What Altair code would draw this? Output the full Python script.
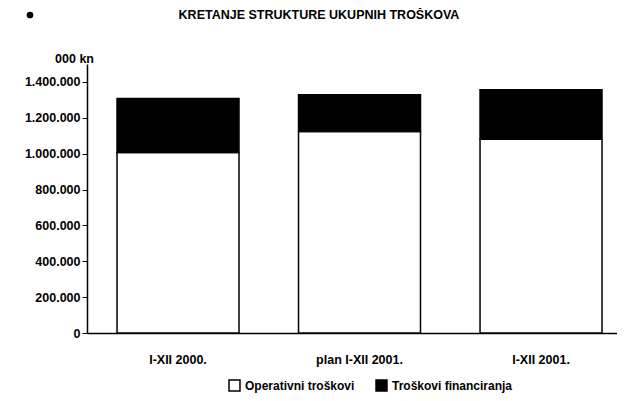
import altair as alt
import pandas as pd

categories = ["I-XII 2000.", "plan I-XII 2001.", "I-XII 2001."]
series = ["Operativni troškovi", "Troškovi financiranja"]
operativni = [1006000, 1123000, 1080000]
financiranja = [301000, 205000, 277000]
y_ticks = [0, 200000, 400000, 600000, 800000, 1000000, 1200000, 1400000]
title_text = ["KRETANJE STRUKTURE UKUPNIH TROŠKOVA"]

rows = []
for c, o, f in zip(categories, operativni, financiranja):
    rows.append({"kat": c, "serija": series[0], "vrijednost": o, "red": 0})
    rows.append({"kat": c, "serija": series[1], "vrijednost": f, "red": 1})
df = pd.DataFrame(rows)

FONT = "Liberation Sans"

bars = alt.Chart(df).mark_bar(stroke="black", strokeWidth=1.5).encode(
    x=alt.X("kat:N", sort=categories,
            scale=alt.Scale(paddingInner=0.328, paddingOuter=0.124, align=0.667),
            axis=alt.Axis(title=None, labelAngle=0, ticks=False, labelPadding=20,
                          domainColor="black", domainWidth=1.5,
                          labelFont=FONT, labelFontSize=12.5, labelFontWeight="bold",
                          labelColor="black")),
    y=alt.Y("vrijednost:Q", stack="zero",
            scale=alt.Scale(domain=[0, 1500000], nice=False),
            axis=alt.Axis(values=y_ticks, grid=False, tickSize=5, tickColor="black",
                          domainColor="black", domainWidth=1.5, labelPadding=2,
                          labelExpr="replace(format(datum.value, ',d'), /,/g, '.')",
                          labelFont=FONT, labelFontSize=12.5, labelFontWeight="bold",
                          labelColor="black",
                          title="000 kn", titleAngle=0, titleX=-13, titleY=-6,
                          titleAlign="center", titleBaseline="middle",
                          titleFont=FONT, titleFontSize=12.5, titleFontWeight="bold",
                          titleColor="black")),
    color=alt.Color("serija:N",
                    scale=alt.Scale(domain=series, range=["white", "black"]),
                    legend=alt.Legend(title=None, orient="none", legendX=141, legendY=315,
                                      direction="horizontal", symbolType="square",
                                      symbolSize=120, symbolStrokeColor="black",
                                      symbolStrokeWidth=1.5, columnPadding=18,
                                      labelFont=FONT, labelFontSize=12,
                                      labelFontWeight="bold", labelColor="black")),
    order=alt.Order("red:Q"),
)

bullet_df = pd.DataFrame({"b": [1]})
bullet = alt.Chart(bullet_df).mark_point(filled=True, color="black", size=45, opacity=1).encode(
    x=alt.value(-57), y=alt.value(-49)
)

title_df = pd.DataFrame({"t": title_text})
title = alt.Chart(title_df).mark_text(font=FONT, fontSize=12.5, fontWeight="bold",
                                      color="black", align="center",
                                      baseline="middle").encode(
    text="t:N", x=alt.value(232), y=alt.value(-49)
)

chart = alt.layer(bars, bullet, title).properties(
    width=530, height=269,
    autosize=alt.AutoSizeParams(type="none"),
    padding={"left": 79, "top": 56, "right": 0, "bottom": 60},
).configure(background="white").configure_view(stroke=None)

chart.save("out.html", embed_options={"renderer": "svg", "actions": False})
